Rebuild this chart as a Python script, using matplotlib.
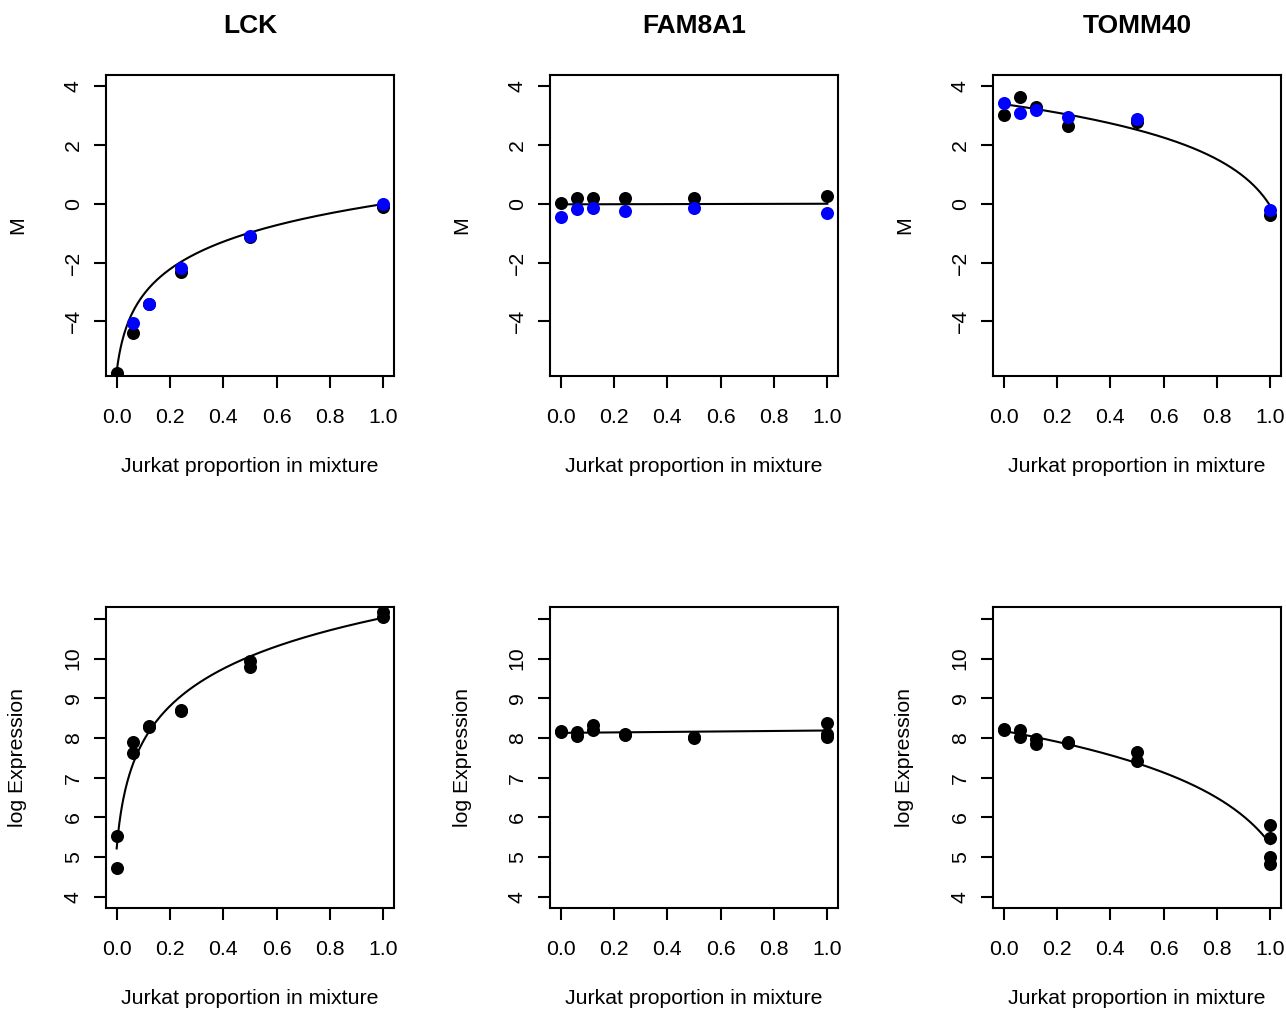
import numpy as np
import matplotlib
matplotlib.use("Agg")
import matplotlib.pyplot as plt

plt.rcParams['font.family'] = ['Liberation Sans', 'DejaVu Sans']

# ---------------- data ----------------
genes = ["LCK", "FAM8A1", "TOMM40"]
mixture = [0.0, 0.06, 0.12, 0.24, 0.5, 1.0]

# M values (top row): two arrays (black, blue)
M_black = {
    "LCK":    [-5.75, -4.39, -3.42, -2.31, -1.12, -0.10],
    "FAM8A1": [0.03, 0.19, 0.19, 0.19, 0.19, 0.25],
    "TOMM40": [3.02, 3.64, 3.30, 2.64, 2.77, -0.38],
}
M_blue = {
    "LCK":    [np.nan, -4.05, -3.42, -2.20, -1.10, -0.02],
    "FAM8A1": [-0.45, -0.19, -0.14, -0.25, -0.14, -0.32],
    "TOMM40": [3.44, 3.10, 3.19, 2.94, 2.90, -0.21],
}

# log expression (bottom row)
expr_x = {
    "LCK":    [0, 0, 0.06, 0.06, 0.12, 0.12, 0.24, 0.24, 0.5, 0.5, 1.0, 1.0],
    "FAM8A1": [0, 0, 0.06, 0.06, 0.12, 0.12, 0.24, 0.24, 0.5, 0.5, 1.0, 1.0, 1.0],
    "TOMM40": [0, 0, 0.06, 0.06, 0.12, 0.12, 0.24, 0.24, 0.5, 0.5, 1.0, 1.0, 1.0, 1.0],
}
expr_y = {
    "LCK":    [5.54, 4.73, 7.91, 7.62, 8.31, 8.29, 8.71, 8.69, 9.93, 9.79, 11.17, 11.06],
    "FAM8A1": [8.18, 8.14, 8.16, 8.05, 8.33, 8.20, 8.11, 8.07, 8.03, 8.00, 8.37, 8.10, 8.03],
    "TOMM40": [8.24, 8.20, 8.20, 8.02, 7.97, 7.85, 7.90, 7.87, 7.64, 7.42, 5.80, 5.48, 5.00, 4.83],
}

# fitted mixture curves: value at proportion 0 and at proportion 1
M_fit_lo = {"LCK": -5.71, "FAM8A1": -0.02, "TOMM40": 3.39}
M_fit_hi = {"LCK": -0.01, "FAM8A1": 0.0, "TOMM40": -0.08}
E_fit_lo = {"LCK": 5.22, "FAM8A1": 8.13, "TOMM40": 8.18}
E_fit_hi = {"LCK": 11.03, "FAM8A1": 8.19, "TOMM40": 5.33}

xticks = [0.0, 0.2, 0.4, 0.6, 0.8, 1.0]
M_ticks = [-4, -2, 0, 2, 4]
E_ticks = [4, 5, 6, 7, 8, 9, 10, 11]

# ---------------- layout ----------------
W, H = 1286, 1009
fig = plt.figure(figsize=(W / 100, H / 100), dpi=100)

col_left = [106, 550, 993]
ax_w = 288
row_top = [75, 607]
ax_h = 301

FS = 15.3
TFS = 19
MS = 88


def mix_curve(p, lo, hi):
    return np.log2(p * 2.0 ** hi + (1 - p) * 2.0 ** lo)


p_grid = np.linspace(0, 1, 400)


def style(ax, yticks, ylabels, ylim, ylabel):
    ax.set_xlim(-0.04, 1.04)
    ax.set_ylim(*ylim)
    ax.set_xticks(xticks)
    ax.set_xticklabels([f"{t:.1f}" for t in xticks])
    ax.set_yticks(yticks)
    ax.set_yticklabels(ylabels)
    for s in ax.spines.values():
        s.set_linewidth(1.5)
    ax.tick_params(axis='both', direction='out', length=8.3, width=1.5,
                   labelsize=FS)
    ax.tick_params(axis='x', pad=14.5)
    ax.tick_params(axis='y', pad=8.5)
    for lab in ax.get_yticklabels():
        lab.set_rotation(90)
        lab.set_verticalalignment('center')
    ax.set_xlabel("Jurkat proportion in mixture", fontsize=FS)
    ax.xaxis.set_label_coords(0.5, -91 / ax_h)
    ax.xaxis.label.set_verticalalignment('center')
    ax.set_ylabel(ylabel, fontsize=FS)
    ax.yaxis.set_label_coords(-88 / ax_w, 0.5)
    ax.yaxis.label.set_verticalalignment('center')


for i, g in enumerate(genes):
    # top row
    l = col_left[i]
    t = row_top[0]
    ax = fig.add_axes([l / W, 1 - (t + ax_h) / H, ax_w / W, ax_h / H])
    ax.plot(p_grid, mix_curve(p_grid, M_fit_lo[g], M_fit_hi[g]),
            color='black', lw=1.5, zorder=2)
    ax.scatter(mixture, M_black[g], s=MS, color='black', linewidths=0, zorder=3)
    ax.scatter(mixture, M_blue[g], s=MS, color='#0000FF', linewidths=0, zorder=4)
    style(ax, M_ticks, [str(v).replace('-', '\u2212') for v in M_ticks],
          (-5.86, 4.38), "M")
    ax.text(0.5, 1 + 49 / ax_h, g, transform=ax.transAxes, ha='center',
            va='center', fontsize=TFS, fontweight='bold')

    # bottom row
    t = row_top[1]
    ax = fig.add_axes([l / W, 1 - (t + ax_h) / H, ax_w / W, ax_h / H])
    ax.plot(p_grid, mix_curve(p_grid, E_fit_lo[g], E_fit_hi[g]),
            color='black', lw=1.5, zorder=2)
    ax.scatter(expr_x[g], expr_y[g], s=MS, color='black', linewidths=0, zorder=3)
    style(ax, E_ticks, [str(v) if v != 11 else "" for v in E_ticks],
          (3.72, 11.30), "log Expression")

fig.savefig("out.png", dpi=100)
